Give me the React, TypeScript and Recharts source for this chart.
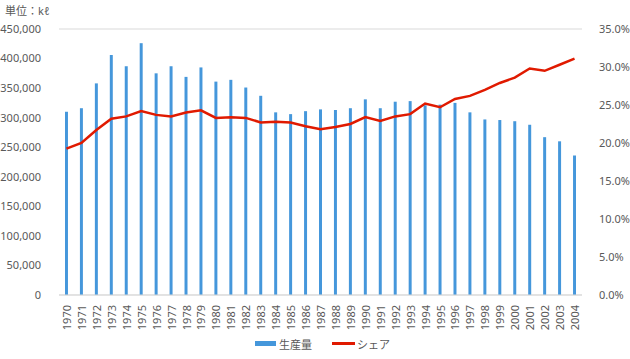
import { Bar, CartesianGrid, ComposedChart, Line, XAxis, YAxis } from "recharts";

const years = [
  "1970", "1971", "1972", "1973", "1974", "1975", "1976", "1977", "1978", "1979",
  "1980", "1981", "1982", "1983", "1984", "1985", "1986", "1987", "1988", "1989",
  "1990", "1991", "1992", "1993", "1994", "1995", "1996", "1997", "1998", "1999",
  "2000", "2001", "2002", "2003", "2004",
];

const production = [
  310000, 316000, 358000, 406000, 387000, 426000, 375000, 387000, 369000, 385000,
  361000, 364000, 351000, 337000, 309000, 306000, 311000, 314000, 313000, 316000,
  331000, 316000, 327000, 328000, 321000, 322000, 325000, 309000, 297000, 296000,
  294000, 288000, 267000, 260000, 236000,
];

const share = [
  19.25, 20.0, 21.7, 23.2, 23.5, 24.2, 23.7, 23.5, 24.0, 24.3,
  23.3, 23.4, 23.3, 22.7, 22.8, 22.7, 22.2, 21.8, 22.1, 22.5,
  23.4, 22.9, 23.5, 23.8, 25.2, 24.7, 25.8, 26.2, 27.0, 27.9,
  28.6, 29.8, 29.5, 30.3, 31.1,
];

const leftTicks = [0, 50000, 100000, 150000, 200000, 250000, 300000, 350000, 400000, 450000];
const rightTicks = [0, 5, 10, 15, 20, 25, 30, 35];

const data = years.map((y, i) => ({ year: y, production: production[i], share: share[i] }));

const FONT = "'Noto Sans', 'Noto Sans CJK JP', sans-serif";
const TEXT = "#595959";
const BAR = "#4597db";
const LINE = "#e01a00";

function YearTick(props: any) {
  const { x, y, payload } = props;
  return (
    <text
      x={x}
      y={y}
      transform={`rotate(-90, ${x}, ${y})`}
      textAnchor="end"
      dominantBaseline="central"
      fontSize={11}
      fill={TEXT}
      fontFamily={FONT}
    >
      {payload.value}
    </text>
  );
}

export default function App() {
  return (
    <div style={{ position: "absolute", left: 0, top: 0, width: 630, height: 359, background: "#fff", fontFamily: FONT }}>
      <div style={{ position: "absolute", left: 5, top: 2, fontSize: 11, color: TEXT }}>単位：kℓ</div>
      <ComposedChart
        width={630}
        height={359}
        data={data}
        barCategoryGap="60%"
        margin={{ top: 29, right: 0, left: 0, bottom: 34 }}
      >
        <CartesianGrid vertical={false} stroke="#d9d9d9" />
        <XAxis
          dataKey="year"
          interval={0}
          tick={<YearTick />}
          tickLine={false}
          axisLine={{ stroke: "#d9d9d9" }}
          height={30}
          tickMargin={4}
        />
        <YAxis
          yAxisId="left"
          width={59}
          domain={[0, 450000]}
          ticks={leftTicks}
          tickFormatter={(v: number) => v.toLocaleString("en-US")}
          tick={{ fontSize: 11, fill: TEXT, fontFamily: FONT }}
          tickLine={false}
          axisLine={false}
          tickMargin={12}
        />
        <YAxis
          yAxisId="right"
          orientation="right"
          width={48}
          domain={[0, 35]}
          ticks={rightTicks}
          tickFormatter={(v: number) => v.toFixed(1) + "%"}
          tick={{ fontSize: 11, fill: TEXT, fontFamily: FONT, textAnchor: "start" }}
          tickLine={false}
          axisLine={false}
          tickMargin={11}
        />
        <Bar yAxisId="left" dataKey="production" fill={BAR} isAnimationActive={false} />
        <Line
          yAxisId="right"
          dataKey="share"
          stroke={LINE}
          strokeWidth={2.5}
          dot={false}
          type="linear"
          isAnimationActive={false}
        />
      </ComposedChart>
      <div style={{ position: "absolute", left: 255, top: 341, width: 21, height: 5, background: BAR }} />
      <div style={{ position: "absolute", left: 279, top: 336, fontSize: 11, color: TEXT, fontFamily: "'Noto Sans CJK JP', sans-serif" }}>生産量</div>
      <div style={{ position: "absolute", left: 332, top: 342, width: 23, height: 3, background: LINE }} />
      <div style={{ position: "absolute", left: 357, top: 336, fontSize: 11, color: TEXT, fontFamily: "'Noto Sans CJK JP', sans-serif" }}>シェア</div>
    </div>
  );
}
